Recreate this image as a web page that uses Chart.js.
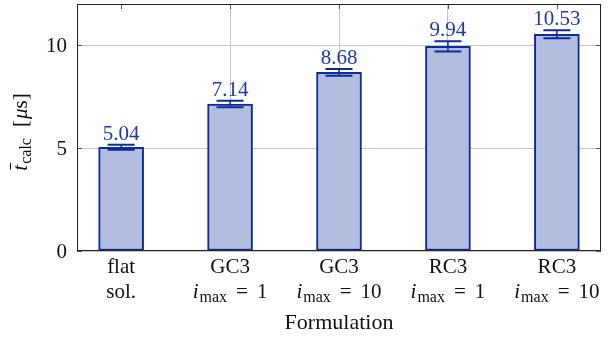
<!DOCTYPE html>
<html>
<head>
<meta charset="utf-8">
<script src="https://cdn.jsdelivr.net/npm/chart.js@4.4.1/dist/chart.umd.min.js"></script>
<style>
  html, body { margin: 0; padding: 0; background: #fff; }
  #wrap { width: 611px; height: 338px; }
</style>
</head>
<body>
<div id="wrap"><canvas id="chart"></canvas></div>
<script>
// Data
const formulations = ['flat', 'GC3', 'GC3', 'RC3', 'RC3'];
const secondLine = ['sol.', null, null, null, null];
const iMax = [null, 1, 10, 1, 10];
const calcTimes = [5.04, 7.14, 8.68, 9.94, 10.53];
const calcErrors = [0.12, 0.16, 0.16, 0.25, 0.19];
const yTickValues = [0, 5, 10];

const SERIF = '"Liberation Serif", "Times New Roman", serif';
const BAR_FILL = '#b2bde0';
const BAR_EDGE = '#0d2b9b';
const LABEL_BLUE = '#1d3aa8';
const GRID = '#c6c6c6';
const AXIS = '#222';
const TICK = '#555';

// draw a list of text pieces in a row, centred on cx
function drawPieces(ctx, pieces, cx, baseline) {
  let total = 0;
  pieces.forEach(p => {
    ctx.font = p.font;
    p.w = ctx.measureText(p.text).width;
    total += p.w + (p.gap || 0);
  });
  let x = cx - total / 2;
  pieces.forEach(p => {
    ctx.font = p.font;
    ctx.fillText(p.text, x, baseline + (p.dy || 0));
    x += p.w + (p.gap || 0);
  });
  return total;
}

const decorPlugin = {
  id: 'decor',
  afterDatasetsDraw(chart) {
    const { ctx, scales: { x, y } } = chart;
    ctx.save();
    ctx.strokeStyle = BAR_EDGE;
    calcTimes.forEach((v, i) => {
      const px = x.getPixelForValue(i);
      const top = y.getPixelForValue(v + calcErrors[i]);
      const bot = y.getPixelForValue(v - calcErrors[i]);
      ctx.lineWidth = 1.5;
      ctx.beginPath();
      ctx.moveTo(px, top);
      ctx.lineTo(px, bot);
      ctx.stroke();
      ctx.lineWidth = 2;
      ctx.beginPath();
      ctx.moveTo(px - 13.5, top);
      ctx.lineTo(px + 13.5, top);
      ctx.moveTo(px - 13.5, bot);
      ctx.lineTo(px + 13.5, bot);
      ctx.stroke();
    });
    ctx.restore();
  },
  afterDraw(chart) {
    const { ctx, chartArea: a, scales: { x, y } } = chart;
    ctx.save();

    // inner tick marks on all four sides
    ctx.strokeStyle = TICK;
    ctx.lineWidth = 1;
    ctx.beginPath();
    yTickValues.forEach(v => {
      const py = Math.round(y.getPixelForValue(v)) + 0.5;
      ctx.moveTo(a.left, py); ctx.lineTo(a.left + 5, py);
      ctx.moveTo(a.right, py); ctx.lineTo(a.right - 5, py);
    });
    calcTimes.forEach((v, i) => {
      const px = Math.round(x.getPixelForValue(i)) + 0.5;
      ctx.moveTo(px, a.top); ctx.lineTo(px, a.top + 5);
    });
    ctx.stroke();

    // axis box
    ctx.strokeStyle = AXIS;
    ctx.strokeRect(Math.round(a.left) + 0.5, Math.round(a.top) + 0.5,
      Math.round(a.right - a.left) - 1, Math.round(a.bottom - a.top) - 1);

    // y tick labels
    ctx.fillStyle = '#111';
    ctx.textBaseline = 'middle';
    ctx.textAlign = 'right';
    ctx.font = '21px ' + SERIF;
    yTickValues.forEach(v => {
      ctx.fillText(String(v), a.left - 10, y.getPixelForValue(v) + 1);
    });
    ctx.textAlign = 'left';
    ctx.textBaseline = 'alphabetic';

    // value labels above the error bars
    ctx.fillStyle = LABEL_BLUE;
    calcTimes.forEach((v, i) => {
      const px = x.getPixelForValue(i);
      const py = y.getPixelForValue(v + calcErrors[i]) - 5;
      drawPieces(ctx, [{ text: v.toFixed(2), font: '21px ' + SERIF }], px, py);
    });

    // category labels
    ctx.fillStyle = '#111';
    formulations.forEach((name, i) => {
      const px = x.getPixelForValue(i);
      drawPieces(ctx, [{ text: name, font: '21px ' + SERIF }], px, 273);
      if (secondLine[i]) {
        drawPieces(ctx, [{ text: secondLine[i], font: '21px ' + SERIF }], px, 298);
      } else {
        drawPieces(ctx, [
          { text: 'i', font: 'italic 21px ' + SERIF, gap: 1 },
          { text: 'max', font: '16px ' + SERIF, dy: 4, gap: 9 },
          { text: '=', font: '21px ' + SERIF, gap: 9 },
          { text: String(iMax[i]), font: '21px ' + SERIF }
        ], px, 298);
      }
    });

    // x axis title
    drawPieces(ctx, [{ text: 'Formulation', font: '22px ' + SERIF }], (a.left + a.right) / 2, 329);

    // y axis title, rotated
    ctx.translate(27, 132);
    ctx.rotate(-Math.PI / 2);
    const pieces = [
      { text: 't', font: 'italic 21px ' + SERIF, gap: 1 },
      { text: 'calc', font: '16px ' + SERIF, dy: 4, gap: 11 },
      { text: '[', font: '21px ' + SERIF, gap: 1 },
      { text: 'μ', font: 'italic 21px ' + SERIF, gap: 0 },
      { text: 's', font: '21px ' + SERIF, gap: 0 },
      { text: ']', font: '21px ' + SERIF }
    ];
    const total = drawPieces(ctx, pieces, 0, 0);
    // bar over the t
    const tx = -total / 2;
    ctx.strokeStyle = '#111';
    ctx.lineWidth = 1;
    ctx.beginPath();
    ctx.moveTo(tx + 1, -16.5);
    ctx.lineTo(tx + pieces[0].w + 2, -16.5);
    ctx.stroke();

    ctx.restore();
  }
};

new Chart(document.getElementById('chart'), {
  type: 'bar',
  data: {
    datasets: [{
      data: calcTimes.map((v, i) => ({ x: i, y: v })),
      backgroundColor: BAR_FILL,
      borderColor: BAR_EDGE,
      borderWidth: 2,
      borderSkipped: false,
      barThickness: 45
    }]
  },
  options: {
    responsive: true,
    maintainAspectRatio: false,
    animation: false,
    layout: { padding: { top: 4, right: 10, left: 0, bottom: 0 } },
    plugins: { legend: { display: false }, tooltip: { enabled: false } },
    scales: {
      x: {
        type: 'linear',
        offset: false,
        min: -0.405,
        max: 4.405,
        ticks: { stepSize: 1, display: false },
        afterBuildTicks: s => { s.ticks = s.ticks.filter(t => Number.isInteger(t.value)); },
        afterFit: s => { s.height = 87; },
        grid: { color: GRID, drawTicks: false, offset: false },
        border: { display: false }
      },
      y: {
        min: 0,
        max: 12,
        ticks: { display: false },
        afterBuildTicks: s => { s.ticks = yTickValues.map(v => ({ value: v })); },
        afterFit: s => { s.width = 77; },
        grid: { color: GRID, drawTicks: false },
        border: { display: false }
      }
    }
  },
  plugins: [decorPlugin]
});
</script>
</body>
</html>
